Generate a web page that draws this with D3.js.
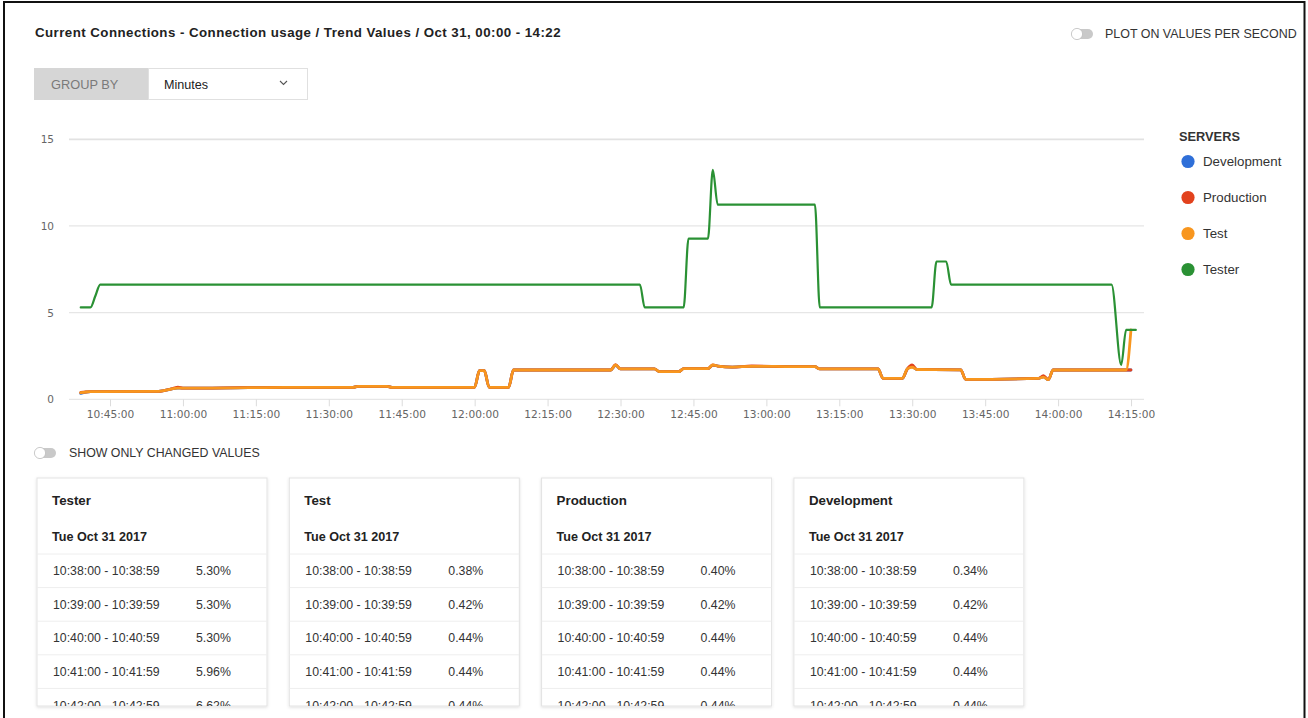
<!DOCTYPE html>
<html>
<head>
<meta charset="utf-8">
<title>Current Connections - Connection usage</title>
<script src="https://cdn.jsdelivr.net/npm/d3@7"></script>
<style>
  html, body { margin: 0; padding: 0; background: #fff; }
  svg { display: block; font-family: "Liberation Sans", Arial, Helvetica, sans-serif; }
</style>
</head>
<body>
<svg id="page" width="1308" height="718"></svg>
<script>
// ---- data -------------------------------------------------------------
// Each entry is [minute interval start, connection usage %]; the value is
// plotted at the end of its one-minute interval. Entries are the minutes
// where the trend changes; in between the usage holds steady.
const servers = ["Development", "Production", "Test", "Tester"];
const serverColors = ["#2f6fd8", "#e2421d", "#f8961e", "#2a9134"];
const tableOrder = ["Tester", "Test", "Production", "Development"];

const developmentTrend = [
  ["10:38", 0.34], ["10:39", 0.42], ["10:40", 0.44], ["10:41", 0.44], ["10:42", 0.44],
  ["10:54", 0.46], ["10:57", 0.61], ["10:58", 0.65], ["11:05", 0.65], ["11:20", 0.69],
  ["11:34", 0.69], ["11:35", 0.75], ["11:41", 0.75], ["11:42", 0.69], ["11:59", 0.69],
  ["12:00", 1.65], ["12:01", 1.65], ["12:02", 0.69], ["12:06", 0.69], ["12:07", 1.69],
  ["12:27", 1.69], ["12:28", 1.96], ["12:29", 1.75], ["12:36", 1.75], ["12:37", 1.60],
  ["12:41", 1.60], ["12:42", 1.77], ["12:47", 1.77], ["12:48", 1.96], ["12:49", 1.92],
  ["12:52", 1.86], ["12:56", 1.90], ["13:03", 1.89], ["13:09", 1.88], ["13:10", 1.75],
  ["13:22", 1.75], ["13:23", 1.21], ["13:27", 1.21], ["13:28", 1.75], ["13:29", 1.90],
  ["13:30", 1.72], ["13:39", 1.70], ["13:40", 1.15], ["13:55", 1.21], ["13:56", 1.30],
  ["13:57", 1.13], ["13:58", 1.69], ["14:14", 1.69]
];

const productionTrend = [
  ["10:38", 0.40], ["10:39", 0.42], ["10:40", 0.44], ["10:41", 0.44], ["10:42", 0.44],
  ["10:54", 0.46], ["10:57", 0.63], ["10:58", 0.70], ["10:59", 0.64], ["11:05", 0.65],
  ["11:20", 0.69], ["11:34", 0.69], ["11:35", 0.75], ["11:41", 0.75], ["11:42", 0.69],
  ["11:59", 0.69], ["12:00", 1.65], ["12:01", 1.65], ["12:02", 0.69], ["12:06", 0.69],
  ["12:07", 1.69], ["12:27", 1.69], ["12:28", 2.00], ["12:29", 1.75], ["12:36", 1.75],
  ["12:37", 1.60], ["12:41", 1.60], ["12:42", 1.77], ["12:47", 1.77], ["12:48", 1.98],
  ["12:49", 1.92], ["12:52", 1.86], ["12:56", 1.92], ["13:03", 1.89], ["13:09", 1.88],
  ["13:10", 1.75], ["13:22", 1.75], ["13:23", 1.21], ["13:27", 1.21], ["13:28", 1.75],
  ["13:29", 1.98], ["13:30", 1.72], ["13:39", 1.70], ["13:40", 1.15], ["13:55", 1.21],
  ["13:56", 1.36], ["13:57", 1.13], ["13:58", 1.69], ["14:14", 1.69]
];

const testTrend = [
  ["10:38", 0.38], ["10:39", 0.42], ["10:40", 0.44], ["10:41", 0.44], ["10:42", 0.44],
  ["10:54", 0.46], ["10:57", 0.61], ["10:58", 0.65], ["11:05", 0.65], ["11:20", 0.69],
  ["11:34", 0.69], ["11:35", 0.75], ["11:41", 0.75], ["11:42", 0.69], ["11:59", 0.69],
  ["12:00", 1.65], ["12:01", 1.65], ["12:02", 0.69], ["12:06", 0.69], ["12:07", 1.69],
  ["12:27", 1.69], ["12:28", 1.98], ["12:29", 1.75], ["12:36", 1.75], ["12:37", 1.60],
  ["12:41", 1.60], ["12:42", 1.77], ["12:47", 1.77], ["12:48", 1.98], ["12:49", 1.92],
  ["12:52", 1.86], ["12:56", 1.90], ["13:03", 1.89], ["13:09", 1.88], ["13:10", 1.75],
  ["13:22", 1.75], ["13:23", 1.21], ["13:27", 1.21], ["13:28", 1.75], ["13:29", 1.85],
  ["13:30", 1.72], ["13:39", 1.70], ["13:40", 1.15], ["13:55", 1.21], ["13:56", 1.28],
  ["13:57", 1.13], ["13:58", 1.69], ["14:13", 1.69], ["14:14", 4.00]
];

const testerTrend = [
  ["10:38", 5.30], ["10:39", 5.30], ["10:40", 5.30], ["10:41", 5.96], ["10:42", 6.62],
  ["12:33", 6.62], ["12:34", 5.30], ["12:42", 5.30], ["12:43", 9.27], ["12:47", 9.27],
  ["12:48", 13.24], ["12:49", 11.23], ["13:09", 11.23], ["13:10", 5.30], ["13:33", 5.30],
  ["13:34", 7.95], ["13:36", 7.95], ["13:37", 6.62], ["14:10", 6.62], ["14:12", 1.98],
  ["14:13", 4.00], ["14:15", 4.00]
];

const trends = {
  Development: developmentTrend,
  Production: productionTrend,
  Test: testTrend,
  Tester: testerTrend
};

const yTickValues = [0, 5, 10, 15];
const xTickLabels = ["10:45:00", "11:00:00", "11:15:00", "11:30:00", "11:45:00",
  "12:00:00", "12:15:00", "12:30:00", "12:45:00", "13:00:00", "13:15:00",
  "13:30:00", "13:45:00", "14:00:00", "14:15:00"];
const timeWindow = ["10:36:34", "14:17:40"];
const tableDate = "Tue Oct 31 2017";
const tableRowCount = 5;

// ---- helpers ----------------------------------------------------------
const parseMinute = d3.timeParse("%H:%M");
const parseClock = d3.timeParse("%H:%M:%S");
const fmtClock = d3.timeFormat("%H:%M:%S");
const intervalEnd = m => d3.timeSecond.offset(parseMinute(m), 59);

const svg = d3.select("#page");
const defs = svg.append("defs");
defs.append("filter").attr("id", "cardShadow")
  .attr("x", "-10%").attr("y", "-10%").attr("width", "120%").attr("height", "120%")
  .append("feDropShadow")
  .attr("dx", 0).attr("dy", 1).attr("stdDeviation", 1.6)
  .attr("flood-color", "#000").attr("flood-opacity", 0.13);

// screen frame
svg.append("rect")
  .attr("x", 4).attr("y", 2).attr("width", 1300.5).attr("height", 740)
  .attr("fill", "none").attr("stroke", "#111").attr("stroke-width", 2);

// title
svg.append("text")
  .attr("x", 35).attr("y", 37)
  .attr("font-size", 13.3).attr("letter-spacing", 0.45)
  .attr("font-weight", "bold").attr("fill", "#222")
  .text("Current Connections - Connection usage / Trend Values / Oct 31, 00:00 - 14:22");

// toggle switch
function toggle(cx, cy, label, labelX, size) {
  const g = svg.append("g");
  g.append("rect")
    .attr("x", cx - 10).attr("y", cy - 5).attr("width", 21).attr("height", 10)
    .attr("rx", 5).attr("fill", "#c9c9c9");
  g.append("circle")
    .attr("cx", cx - 5).attr("cy", cy).attr("r", 5.6)
    .attr("fill", "#fff").attr("stroke", "#bdbdbd").attr("stroke-width", 0.8);
  g.append("text")
    .attr("x", labelX).attr("y", cy + 4.3)
    .attr("font-size", size).attr("fill", "#333")
    .text(label);
}
toggle(1082, 34, "PLOT ON VALUES PER SECOND", 1105, 12.45);

// group-by selector
svg.append("rect").attr("x", 34).attr("y", 68).attr("width", 114).attr("height", 32)
  .attr("fill", "#d6d6d6");
svg.append("rect").attr("x", 148.5).attr("y", 68.5).attr("width", 159).attr("height", 31)
  .attr("fill", "#fff").attr("stroke", "#e0e0e0");
svg.append("text").attr("x", 51).attr("y", 88.5).attr("font-size", 12.8).attr("fill", "#7a7a7a")
  .text("GROUP BY");
svg.append("text").attr("x", 164).attr("y", 89).attr("font-size", 12.6).attr("fill", "#222")
  .text("Minutes");
svg.append("path").attr("d", "M280,81 L283.5,84.5 L287,81")
  .attr("fill", "none").attr("stroke", "#555").attr("stroke-width", 1.1);

// ---- trend chart ------------------------------------------------------
const plot = { left: 69, right: 1144, top: 139.3, bottom: 399.3 };

const x = d3.scaleTime()
  .domain(timeWindow.map(parseClock))
  .range([plot.left, plot.right]);
const y = d3.scaleLinear()
  .domain([0, 15])
  .range([plot.bottom, plot.top]);

const chart = svg.append("g");

// horizontal grid
chart.append("g").selectAll("line")
  .data(yTickValues).join("line")
  .attr("x1", plot.left).attr("x2", plot.right)
  .attr("y1", d => y(d)).attr("y2", d => y(d))
  .attr("stroke", d => d === 15 ? "#e2e2e2" : "#e6e6e6")
  .attr("stroke-width", d => d === 15 ? 1.8 : 1.2);

// y axis labels
const yAxis = chart.append("g")
  .attr("transform", `translate(${plot.left},0)`)
  .call(d3.axisLeft(y).tickValues(yTickValues).tickSize(0).tickPadding(15));
yAxis.select(".domain").remove();
yAxis.selectAll("text")
  .attr("font-family", "'DejaVu Sans', Verdana, sans-serif")
  .attr("font-size", 10.5).attr("fill", "#666");

// x axis
const xAxis = chart.append("g")
  .attr("transform", `translate(0,${plot.bottom})`)
  .call(d3.axisBottom(x)
    .tickValues(xTickLabels.map(parseClock))
    .tickFormat(fmtClock)
    .tickSize(7).tickPadding(4));
xAxis.select(".domain").remove();
xAxis.selectAll(".tick line").attr("stroke", "#dcdcdc");
xAxis.selectAll("text")
  .attr("font-family", "'DejaVu Sans', Verdana, sans-serif")
  .attr("font-size", 10.6).attr("fill", "#666");

// series lines
const line = d3.line()
  .x(d => x(intervalEnd(d[0])))
  .y(d => y(d[1]))
  .curve(d3.curveMonotoneX);

chart.append("g").selectAll("path")
  .data(servers).join("path")
  .attr("d", s => line(trends[s]))
  .attr("fill", "none")
  .attr("stroke", (s, i) => serverColors[i])
  .attr("stroke-width", s => s === "Tester" ? 2.2 : 2.8)
  .attr("stroke-linejoin", "round")
  .attr("stroke-linecap", "round");

// legend
const legend = svg.append("g").attr("transform", "translate(1179,0)");
legend.append("text")
  .attr("x", 0).attr("y", 140.5)
  .attr("font-size", 12.8).attr("font-weight", "bold").attr("fill", "#333")
  .text("SERVERS");
const legendItem = legend.selectAll("g.item")
  .data(servers).join("g")
  .attr("class", "item")
  .attr("transform", (s, i) => `translate(0,${161.5 + i * 36})`);
legendItem.append("circle")
  .attr("cx", 9).attr("cy", 0).attr("r", 6.6)
  .attr("fill", (s, i) => serverColors[i]);
legendItem.append("text")
  .attr("x", 24).attr("y", 4.6)
  .attr("font-size", 13.3).attr("fill", "#333")
  .text(s => s);

// ---- value tables -----------------------------------------------------
toggle(45, 453, "SHOW ONLY CHANGED VALUES", 69, 12.35);

const card = { left: 37, top: 478, width: 230, height: 228, gap: 22.3 };
const rowTop = 554, rowHeight = 33.6;
const fmtPct = d3.format(".2f");
const minutePlus = m => d3.timeFormat("%H:%M:59")(parseMinute(m));

tableOrder.forEach((name, ci) => {
  const cx = card.left + ci * (card.width + card.gap);
  const g = svg.append("g").attr("transform", `translate(${cx},${card.top})`);
  const clipId = "cardClip" + ci;
  defs.append("clipPath").attr("id", clipId)
    .append("rect").attr("x", 0).attr("y", 0)
    .attr("width", card.width).attr("height", card.height);

  g.append("rect")
    .attr("width", card.width).attr("height", card.height)
    .attr("fill", "#fff").attr("stroke", "#e3e3e3")
    .attr("filter", "url(#cardShadow)");

  const body = g.append("g").attr("clip-path", `url(#${clipId})`);
  body.append("text").attr("x", 15).attr("y", 27)
    .attr("font-size", 13.3).attr("font-weight", "bold").attr("fill", "#222")
    .text(name);
  body.append("text").attr("x", 15).attr("y", 63)
    .attr("font-size", 12.6).attr("font-weight", "bold").attr("fill", "#222")
    .text(tableDate);

  const rows = trends[name].slice(0, tableRowCount);
  body.selectAll("line.sep")
    .data(d3.range(tableRowCount)).join("line")
    .attr("class", "sep")
    .attr("x1", 0).attr("x2", card.width)
    .attr("y1", i => rowTop - card.top + i * rowHeight)
    .attr("y2", i => rowTop - card.top + i * rowHeight)
    .attr("stroke", "#eeeeee");
  const row = body.selectAll("g.row")
    .data(rows).join("g")
    .attr("class", "row")
    .attr("transform", (d, i) => `translate(0,${rowTop - card.top + i * rowHeight + rowHeight / 2 + 4.3})`);
  row.append("text").attr("x", 16)
    .attr("font-size", 12.3).attr("fill", "#333")
    .text(d => `${d[0]}:00 - ${minutePlus(d[0])}`);
  row.append("text").attr("x", 159)
    .attr("font-size", 12.3).attr("fill", "#333")
    .text(d => fmtPct(d[1]) + "%");
});
</script>
</body>
</html>
